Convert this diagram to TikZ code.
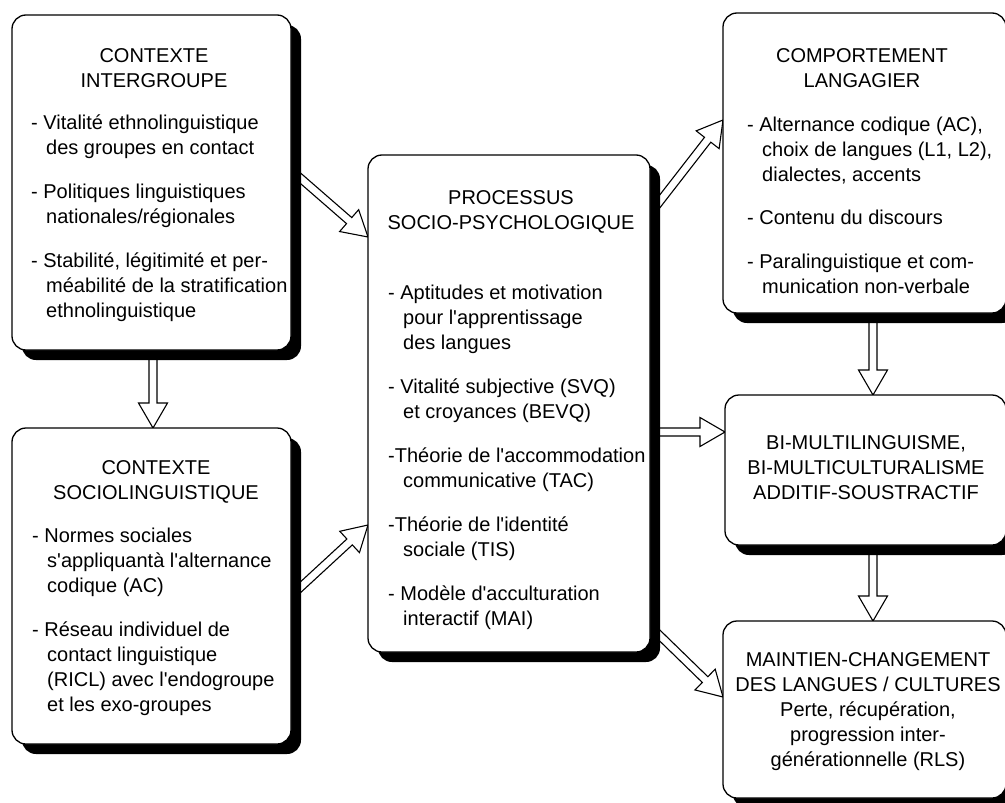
\documentclass[tikz,border=0pt]{standalone}
\usepackage{fontspec}
\setmainfont{Liberation Sans}
\usetikzlibrary{calc,shadows}
\pgfdeclarelayer{background}
\pgfsetlayers{background,main}
\newcommand{\ind}{\hspace*{15pt}}
\newcommand{\q}{\textquotesingle}
\newcommand{\fatarrow}[2]{%
  \coordinate (fah) at ($(#2)!25pt!(#1)$);
  \draw[fatarr] ($(#1)!4pt!-90:(#2)$) -- ($(fah)!4pt!-90:(#2)$) -- ($(fah)!14.5pt!-90:(#2)$) -- (#2)
    -- ($(fah)!14.5pt!90:(#2)$) -- ($(fah)!4pt!90:(#2)$) -- ($(#1)!4pt!90:(#2)$) -- cycle;}
\begin{document}
\begin{tikzpicture}[x=1pt,y=-1pt,
  box/.style={draw=black, line width=1.3pt, fill=white, rounded corners=14pt, anchor=north west,
    inner sep=0pt, outer sep=0pt,
    drop shadow={shadow xshift=10pt,shadow yshift=-10pt,opacity=1,fill=black}},
  hd/.style={font=\fontsize{20}{25}\selectfont, align=center, anchor=north, inner sep=0pt},
  bd/.style={font=\fontsize{20}{25}\selectfont, align=left, anchor=north west, inner sep=0pt},
  fatarr/.style={draw=black, fill=white, line width=1.1pt, line join=miter}]
\useasboundingbox (0,0) rectangle (1005,803);
\clip (0,0) rectangle (1005,803);
% boxes
\node[box, minimum width=279pt, minimum height=335pt] (b1) at (12,15) {};
\node[box, minimum width=279pt, minimum height=316pt] (b2) at (12,428) {};
\node[box, minimum width=282pt, minimum height=497pt] (b3) at (368,155) {};
\node[box, minimum width=283pt, minimum height=300pt] (b4) at (723,13) {};
\node[box, minimum width=281pt, minimum height=150pt] (b5) at (725,395) {};
\node[box, minimum width=283pt, minimum height=177pt] (b6) at (723,621) {};
% texts
\node[hd] (h1) at (154,44.5) {\strut CONTEXTE\\INTERGROUPE};
\node[bd] (t1) at (31,111.5) {\strut- Vitalité ethnolinguistique\\\ind des groupes en contact\\[19pt]%
- Politiques linguistiques\\\ind nationales/régionales\\[19pt]%
- Stabilité, légitimité et per-\\\ind méabilité de la stratification\\\ind ethnolinguistique};
\node[hd] (h2) at (156,456.5) {\strut CONTEXTE\\SOCIOLINGUISTIQUE};
\node[bd] (t2) at (32,525) {\strut- Normes sociales\\\ind s\q appliquantà l\q alternance\\\ind codique (AC)\\[19pt]%
- Réseau individuel de\\\ind contact linguistique\\\ind (RICL) avec l\q endogroupe\\\ind et les exo-groupes};
\node[hd] (h3) at (511,187) {\strut PROCESSUS\\SOCIO-PSYCHOLOGIQUE};
\node[bd] (t3) at (388,282) {\strut- Aptitudes et motivation\\\ind pour l\q apprentissage\\\ind des langues\\[19pt]%
- Vitalité subjective (SVQ)\\\ind et croyances (BEVQ)\\[19pt]%
-Théorie de l\q accommodation\\\ind communicative (TAC)\\[19pt]%
-Théorie de l\q identité\\\ind sociale (TIS)\\[19pt]%
- Modèle d\q acculturation\\\ind interactif (MAI)};
\node[hd] (h4) at (862,44.5) {\strut COMPORTEMENT\\LANGAGIER};
\node[bd] (t4) at (747,114) {\strut- Alternance codique (AC),\\\ind choix de langues (L1, L2),\\\ind dialectes, accents\\[18pt]%
- Contenu du discours\\[19pt]%
- Paralinguistique et com-\\\ind munication non-verbale};
\node[hd] (h5) at (866,432) {\strut BI-MULTILINGUISME,\\BI-MULTICULTURALISME\\ADDITIF-SOUSTRACTIF};
\node[hd] (h6) at (868,649) {\strut MAINTIEN-CHANGEMENT\\DES LANGUES / CULTURES\\Perte, récupération,\\progression inter-\\générationnelle (RLS)};
% connector end points
\coordinate (s12) at (b1.south -| 153,0);
\coordinate (e12) at (b2.north -| 153,0);
\coordinate (s13) at (b1.east |- 0,170);
\coordinate (e13) at (b3.west |- 0,237);
\coordinate (s23) at (b2.east |- 0,596);
\coordinate (e23) at (b3.west |- 0,525);
\coordinate (s34) at (b3.east |- 0,214);
\coordinate (e34) at (b4.west |- 0,120);
\coordinate (s35) at (b3.east |- 0,432);
\coordinate (e35) at (b5.west |- 0,432);
\coordinate (s36) at (b3.east |- 0,626);
\coordinate (e36) at (b6.west |- 0,697);
\coordinate (s45) at (b4.south -| 873,0);
\coordinate (e45) at (b5.north -| 873,0);
\coordinate (s56) at (b5.south -| 873,0);
\coordinate (e56) at (b6.north -| 873,0);
\begin{pgfonlayer}{background}
\fill[white] (0,0) rectangle (1005,803);
\fatarrow{s12}{e12}
\fatarrow{s13}{e13}
\fatarrow{s23}{e23}
\fatarrow{s34}{e34}
\fatarrow{s35}{e35}
\fatarrow{s36}{e36}
\fatarrow{s45}{e45}
\fatarrow{s56}{e56}
\end{pgfonlayer}
\end{tikzpicture}
\end{document}
